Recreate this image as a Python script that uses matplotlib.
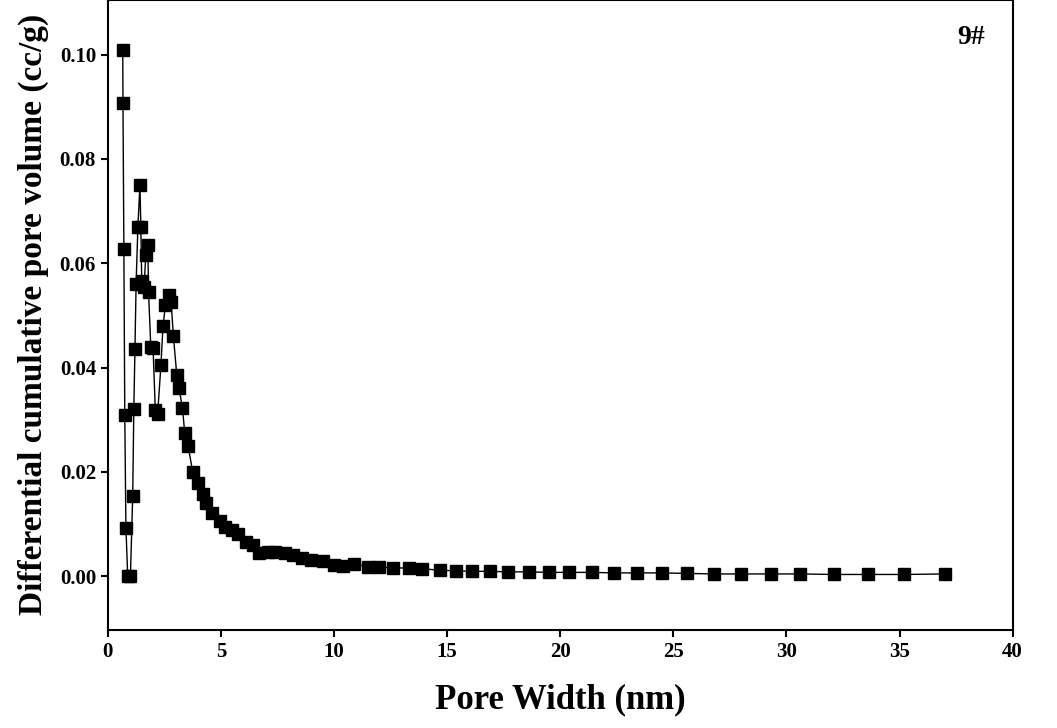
import matplotlib.pyplot as plt

plt.rcParams['font.family'] = 'Liberation Serif'
plt.rcParams['font.weight'] = 'bold'

# pore width (nm) and differential pore volume (cc/g)
pore_width = [0.66, 0.67, 0.71, 0.75, 0.80, 0.88, 1.00, 1.10, 1.15, 1.20, 1.25,
              1.33, 1.42, 1.46, 1.50, 1.60, 1.68, 1.77, 1.80, 1.90, 2.00, 2.10,
              2.20, 2.35, 2.44, 2.55, 2.70, 2.80, 2.90, 3.05, 3.15, 3.30, 3.40,
              3.55, 3.75, 4.00, 4.20, 4.35, 4.60, 4.95, 5.20, 5.50, 5.75, 6.10,
              6.40, 6.70, 7.10, 7.40, 7.85, 8.20, 8.60, 9.00, 9.50, 10.0, 10.4,
              10.9, 11.5, 12.0, 12.6, 13.3, 13.9, 14.7, 15.4, 16.1, 16.9, 17.7,
              18.6, 19.5, 20.4, 21.4, 22.4, 23.4, 24.5, 25.6, 26.8, 28.0, 29.3,
              30.6, 32.1, 33.6, 35.2, 37.0]
pore_volume = [0.1010, 0.0908, 0.0627, 0.0309, 0.0093, 0.0000, 0.0000, 0.0153,
               0.0320, 0.0435, 0.0560, 0.0670, 0.0750, 0.0670, 0.0565, 0.0555,
               0.0615, 0.0635, 0.0545, 0.0440, 0.0438, 0.0318, 0.0310, 0.0405,
               0.0480, 0.0520, 0.0540, 0.0525, 0.0460, 0.0385, 0.0360, 0.0322,
               0.0275, 0.0250, 0.0200, 0.0178, 0.0158, 0.0140, 0.0120, 0.0105,
               0.0095, 0.0088, 0.0080, 0.0065, 0.0060, 0.0045, 0.0047, 0.0047,
               0.0045, 0.0040, 0.0035, 0.0030, 0.0028, 0.0021, 0.0020, 0.0023,
               0.0018, 0.0017, 0.0016, 0.0015, 0.0014, 0.0011, 0.0010, 0.0009,
               0.0009, 0.0008, 0.0008, 0.0007, 0.0007, 0.0007, 0.0006, 0.0006,
               0.0006, 0.0005, 0.0004, 0.0004, 0.0004, 0.0004, 0.0003, 0.0003,
               0.0003, 0.0004]

fig = plt.figure(figsize=(10.57, 7.28), dpi=100)
ax = fig.add_axes([0.102, 0.135, 0.856, 0.865])
ax.plot(pore_width, pore_volume, color='black', lw=1, marker='s', ms=9,
        markerfacecolor='black')
ax.set_xlim(0, 40)
ax.set_ylim(-0.0103, 0.1105)
ax.set_xticks(range(0, 41, 5))
ax.set_yticks([0.00, 0.02, 0.04, 0.06, 0.08, 0.10])
ax.set_yticklabels(['0.00', '0.02', '0.04', '0.06', '0.08', '0.10'])
ax.tick_params(labelsize=15, width=1.5, length=5)
for s in ax.spines.values():
    s.set_linewidth(1.5)
ax.set_xlabel('Pore Width (nm)', fontsize=25, fontweight='bold', labelpad=16)
ax.set_ylabel('Differential cumulative pore volume (cc/g)', fontsize=24,
              fontweight='bold', labelpad=8)
ax.text(0.97, 0.96, '9#', transform=ax.transAxes, ha='right', va='top',
        fontsize=20, fontweight='bold')
fig.savefig('out.png', dpi=100)
